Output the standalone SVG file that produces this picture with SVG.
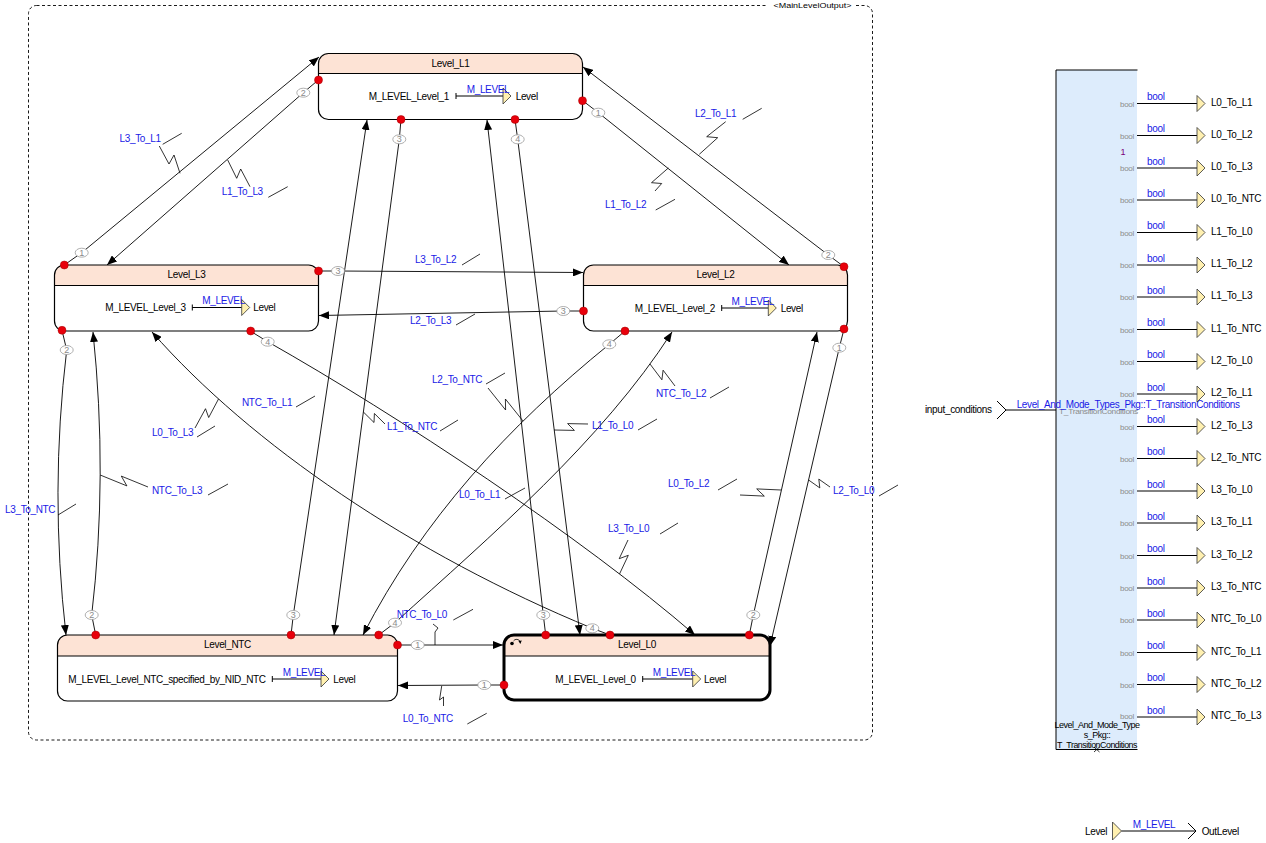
<svg xmlns="http://www.w3.org/2000/svg" width="1266" height="843" viewBox="0 0 1266 843">
<style>
.t{font-family:"Liberation Sans",Arial,sans-serif;font-size:10px;letter-spacing:-0.35px;fill:#000}
.b{fill:#1a1ae6}
.g{font-family:"Liberation Sans",Arial,sans-serif;font-size:8px;letter-spacing:-0.3px;fill:#8c8c8c}
.hdr{fill:#fde3d5}
.body{fill:#fff}
.box{fill:none;stroke:#000;stroke-width:1.2}
.box0{fill:none;stroke:#000;stroke-width:3}
.sep{stroke:#000;stroke-width:1.2}
.dot{fill:#e8000b;stroke:#a00000;stroke-width:0.5}
.pn ellipse{fill:#fff;stroke:#9a9a9a;stroke-width:0.8}
.pn text{font-family:"Liberation Sans",Arial,sans-serif;font-size:9px;fill:#8a8a8a;text-anchor:middle}
.tr{fill:none;stroke:#000;stroke-width:0.9;marker-end:url(#ah)}
.zz{fill:none;stroke:#000;stroke-width:0.8}
.port{fill:#fff0b0;stroke:#333;stroke-width:0.8}
.ln{stroke:#000;stroke-width:1;fill:none}
</style>
<defs>
<marker id="ah" viewBox="0 0 10 8" refX="10" refY="4" markerWidth="10" markerHeight="8" markerUnits="userSpaceOnUse" orient="auto">
<path d="M0,0 L10,4 L0,8 Z" fill="#000"/>
</marker>
</defs>
<rect width="1266" height="843" fill="#fff"/>

<!-- container frame -->
<g id="frame">
<rect x="28.5" y="5.5" width="844" height="734.5" rx="8" fill="none" stroke="#000" stroke-width="0.9" stroke-dasharray="3 2.5"/>
<rect x="768" y="0" width="88" height="11" fill="#fff"/>
<text x="812.5" y="8.3" text-anchor="middle" font-family="Liberation Sans, Arial, sans-serif" font-size="8" textLength="78" lengthAdjust="spacingAndGlyphs">&lt;MainLevelOutput&gt;</text>
</g>

<!-- transitions -->
<g id="connectors">
<path class="tr" d="M582.7,100.7 L598.3,112.7 L789,265"/>
<path class="tr" d="M844,266.7 L828.3,255 L583,67"/>
<path class="tr" d="M318.3,80 L303.3,92.7 L107,265"/>
<path class="tr" d="M64.3,265 L81.7,252.7 L319,57"/>
<path class="tr" d="M318.7,271 L338,271 L583,272.5"/>
<path class="tr" d="M583.3,311 L563.3,311 L319,315.5"/>
<path class="tr" d="M401,119.3 L399.3,139.3 L334,635"/>
<path class="tr" d="M291,635 L293.3,615 L367,120"/>
<path class="tr" d="M515,119.3 L517.7,139.3 L580,635"/>
<path class="tr" d="M545.7,635 L543.3,615 L487,120"/>
<path class="tr" d="M62,330.3 L66.7,350 Q49.6,492 66,635"/>
<path class="tr" d="M95.7,635 L91.7,615 Q108,476 93,332"/>
<path class="tr" d="M250.7,331.3 L267.7,341.7 C398.2,415.7 581.5,536.9 695,635"/>
<path class="tr" d="M610,635 L592.3,628.3 C412,554 251,444.6 152,332"/>
<path class="tr" d="M625,331 L609.3,344.3 C508.3,426.2 422.5,519.4 363,635"/>
<path class="tr" d="M378.7,635 L395,622.7 C491.3,535.4 601.7,441.3 672,332"/>
<path class="tr" d="M844,329 L839.3,347.7 L770,646"/>
<path class="tr" d="M749.3,635 L753.3,615 L817,332"/>
<path class="tr" d="M397.7,645 L417.7,645 L503,645"/>
<path class="tr" d="M504,685 L484.3,685 L398,685.5"/>

<!-- label leaders -->
<g class="zz">
<path d="M699.3,154.3 L717.7,137.7 L706.7,136.7 L725.7,121.7"/>
<path d="M668.3,168 L651.5,182.7 L661.7,183.5 L655,191"/>
<path d="M180,173.3 L174,155 L169,164 L159.3,146"/>
<path d="M227.7,160 L236.7,178.3 L240.7,169 L250,186.7"/>
<path d="M435,645 L435,632 L438,628 L433,624"/>
<path d="M441.7,686 L439.5,700 L443.5,697 L443.5,706"/>
<path d="M218.5,399 L208.7,417.5 L205.5,408.7 L195,428"/>
<path d="M523,421 L505.4,399 L505.6,410 L488,388"/>
<path d="M619.5,574 L628.3,555.3 L619.2,558.7 L628,540"/>
<path d="M363.4,412 L374,422.5 L374.4,413.5 L385,424"/>
<path d="M100.2,475 L126.9,485.9 L121.3,476.1 L148,487"/>
<path d="M781,490 L756.7,488.9 L764.3,496.1 L740,495"/>
<path d="M808.6,480 L819.8,487.9 L818.8,479.1 L830,487"/>
<path d="M554,430 L574.4,430.4 L567.6,423.6 L588,424"/>
<path d="M650,364 L661.9,379.8 L663.1,370.2 L675,386"/>
</g>

<!-- label separators -->
<g class="zz">
<path d="M742.7,119.3 L761.7,108.3"/>
<path d="M655.7,210 L675,199.3"/>
<path d="M162.7,144.3 L181.7,133.3"/>
<path d="M268.3,197.3 L287.7,186.7"/>
<path d="M462,265 L480,254"/>
<path d="M456,325 L475,314"/>
<path d="M296,407 L315,396"/>
<path d="M440,431 L458,420"/>
<path d="M197,437 L215,426"/>
<path d="M486,384 L505,373"/>
<path d="M710,398 L729,387"/>
<path d="M638,430 L657,419"/>
<path d="M505,499 L525,488"/>
<path d="M208,495 L228,484"/>
<path d="M58,515 L76,504"/>
<path d="M718,490 L737,479"/>
<path d="M879,496 L898,485"/>
<path d="M660,534 L678,523"/>
<path d="M453.3,620 L473,609.3"/>
<path d="M467.3,724 L486.7,713.3"/>
</g>

<!-- transition names -->
<g class="t b">
<text x="695" y="116.5">L2_To_L1</text>
<text x="605" y="208">L1_To_L2</text>
<text x="119.5" y="141.7">L3_To_L1</text>
<text x="221.7" y="195">L1_To_L3</text>
<text x="415" y="262.5">L3_To_L2</text>
<text x="410" y="323.5">L2_To_L3</text>
<text x="242" y="405.5">NTC_To_L1</text>
<text x="387" y="429.5">L1_To_NTC</text>
<text x="152" y="435.5">L0_To_L3</text>
<text x="432" y="382.5">L2_To_NTC</text>
<text x="656" y="396.5">NTC_To_L2</text>
<text x="592" y="428.5">L1_To_L0</text>
<text x="459" y="497.5">L0_To_L1</text>
<text x="152" y="493.5">NTC_To_L3</text>
<text x="5" y="512.5">L3_To_NTC</text>
<text x="668" y="486.5">L0_To_L2</text>
<text x="833" y="493.5">L2_To_L0</text>
<text x="608" y="531.5">L3_To_L0</text>
<text x="396.7" y="617.8">NTC_To_L0</text>
<text x="402.7" y="722">L0_To_NTC</text>
</g>

<!-- priority numbers -->
<g class="pn">
<ellipse cx="598.3" cy="112.7" rx="6.5" ry="4.5"/><text x="598.3" y="115.8">1</text>
<ellipse cx="828.3" cy="255" rx="6.5" ry="4.5"/><text x="828.3" y="258.1">2</text>
<ellipse cx="303.3" cy="92.7" rx="6.5" ry="4.5"/><text x="303.3" y="95.8">2</text>
<ellipse cx="81.7" cy="252.7" rx="6.5" ry="4.5"/><text x="81.7" y="255.8">1</text>
<ellipse cx="338" cy="271" rx="6.5" ry="4.5"/><text x="338" y="274.1">3</text>
<ellipse cx="563.3" cy="311" rx="6.5" ry="4.5"/><text x="563.3" y="314.1">3</text>
<ellipse cx="399.3" cy="139.3" rx="6.5" ry="4.5"/><text x="399.3" y="142.4">3</text>
<ellipse cx="293.3" cy="615" rx="6.5" ry="4.5"/><text x="293.3" y="618.1">3</text>
<ellipse cx="517.7" cy="139.3" rx="6.5" ry="4.5"/><text x="517.7" y="142.4">4</text>
<ellipse cx="543.3" cy="615" rx="6.5" ry="4.5"/><text x="543.3" y="618.1">3</text>
<ellipse cx="66.7" cy="350" rx="6.5" ry="4.5"/><text x="66.7" y="353.1">2</text>
<ellipse cx="91.7" cy="615" rx="6.5" ry="4.5"/><text x="91.7" y="618.1">2</text>
<ellipse cx="267.7" cy="341.7" rx="6.5" ry="4.5"/><text x="267.7" y="344.8">4</text>
<ellipse cx="592.3" cy="628.3" rx="6.5" ry="4.5"/><text x="592.3" y="631.4">4</text>
<ellipse cx="609.3" cy="344.3" rx="6.5" ry="4.5"/><text x="609.3" y="347.4">4</text>
<ellipse cx="395" cy="622.7" rx="6.5" ry="4.5"/><text x="395" y="625.8">4</text>
<ellipse cx="839.3" cy="347.7" rx="6.5" ry="4.5"/><text x="839.3" y="350.8">1</text>
<ellipse cx="753.3" cy="615" rx="6.5" ry="4.5"/><text x="753.3" y="618.1">2</text>
<ellipse cx="417.7" cy="645" rx="6.5" ry="4.5"/><text x="417.7" y="648.1">1</text>
<ellipse cx="484.3" cy="685" rx="6.5" ry="4.5"/><text x="484.3" y="688.1">1</text>
</g>
</g>

<!-- state Level_L1 -->
<g id="state-L1">
<rect class="body" x="318.5" y="53.5" width="264" height="66" rx="10"/>
<path class="hdr" d="M318.5,73.5 V63.5 A10,10 0 0 1 328.5,53.5 H572.5 A10,10 0 0 1 582.5,63.5 V73.5 Z"/>
<line class="sep" x1="318.5" y1="73.5" x2="582.5" y2="73.5"/>
<rect class="box" x="318.5" y="53.5" width="264" height="66" rx="10"/>
<text class="t" x="450.5" y="66.8" text-anchor="middle">Level_L1</text>
<text class="t" x="449" y="99.5" text-anchor="end">M_LEVEL_Level_1</text>
<path class="ln" d="M456,93 V99 M456,96 H503"/>
<path class="port" d="M503,88 L511,96 L503,104 Z"/>
<text class="t b" x="466.7" y="92.8">M_LEVEL</text>
<text class="t" x="515.7" y="99.5">Level</text>
<circle class="dot" cx="318.5" cy="80" r="4"/>
<circle class="dot" cx="401" cy="119.5" r="4"/>
<circle class="dot" cx="515" cy="119.5" r="4"/>
<circle class="dot" cx="582.5" cy="100.7" r="4"/>
</g>

<!-- state Level_L3 -->
<g id="state-L3">
<rect class="body" x="54.5" y="265" width="264" height="66" rx="10"/>
<path class="hdr" d="M54.5,285.5 V275 A10,10 0 0 1 64.5,265 H308.5 A10,10 0 0 1 318.5,275 V285.5 Z"/>
<line class="sep" x1="54.5" y1="285.5" x2="318.5" y2="285.5"/>
<rect class="box" x="54.5" y="265" width="264" height="66" rx="10"/>
<text class="t" x="186.5" y="277.8" text-anchor="middle">Level_L3</text>
<text class="t" x="185.7" y="311" text-anchor="end">M_LEVEL_Level_3</text>
<path class="ln" d="M192.3,304.5 V310.5 M192.3,307.5 H241.7"/>
<path class="port" d="M241.7,299.5 L249.7,307.5 L241.7,315.5 Z"/>
<text class="t b" x="202.3" y="304">M_LEVEL</text>
<text class="t" x="253.3" y="311">Level</text>
<circle class="dot" cx="64.3" cy="265" r="4"/>
<circle class="dot" cx="318.5" cy="271" r="4"/>
<circle class="dot" cx="62" cy="330.3" r="4"/>
<circle class="dot" cx="250.7" cy="331" r="4"/>
</g>

<!-- state Level_L2 -->
<g id="state-L2">
<rect class="body" x="583.5" y="265" width="264" height="66" rx="10"/>
<path class="hdr" d="M583.5,285.5 V275 A10,10 0 0 1 593.5,265 H837.5 A10,10 0 0 1 847.5,275 V285.5 Z"/>
<line class="sep" x1="583.5" y1="285.5" x2="847.5" y2="285.5"/>
<rect class="box" x="583.5" y="265" width="264" height="66" rx="10"/>
<text class="t" x="715.5" y="277.8" text-anchor="middle">Level_L2</text>
<text class="t" x="715" y="311.5" text-anchor="end">M_LEVEL_Level_2</text>
<path class="ln" d="M721.7,305 V311 M721.7,308 H768.3"/>
<path class="port" d="M768.3,300 L776.3,308 L768.3,316 Z"/>
<text class="t b" x="731.5" y="304.5">M_LEVEL</text>
<text class="t" x="780.7" y="311.5">Level</text>
<circle class="dot" cx="844" cy="266.7" r="4"/>
<circle class="dot" cx="583.5" cy="311" r="4"/>
<circle class="dot" cx="625" cy="331" r="4"/>
<circle class="dot" cx="844" cy="329" r="4"/>
</g>

<!-- state Level_NTC -->
<g id="state-NTC">
<rect class="body" x="57.5" y="635" width="340" height="66" rx="10"/>
<path class="hdr" d="M57.5,656 V645 A10,10 0 0 1 67.5,635 H387.5 A10,10 0 0 1 397.5,645 V656 Z"/>
<line class="sep" x1="57.5" y1="656" x2="397.5" y2="656"/>
<rect class="box" x="57.5" y="635" width="340" height="66" rx="10"/>
<text class="t" x="227.5" y="647.5" text-anchor="middle">Level_NTC</text>
<text class="t" x="265.7" y="682.5" text-anchor="end">M_LEVEL_Level_NTC_specified_by_NID_NTC</text>
<path class="ln" d="M272.3,676 V682 M272.3,679 H321"/>
<path class="port" d="M321,671 L329,679 L321,687 Z"/>
<text class="t b" x="282.7" y="675.5">M_LEVEL</text>
<text class="t" x="333.3" y="682.5">Level</text>
<circle class="dot" cx="95.7" cy="635" r="4"/>
<circle class="dot" cx="291" cy="635" r="4"/>
<circle class="dot" cx="378.7" cy="635" r="4"/>
<circle class="dot" cx="397.5" cy="645" r="4"/>
</g>

<!-- state Level_L0 (initial) -->
<g id="state-L0">
<rect class="body" x="504" y="635" width="266" height="65" rx="10"/>
<path class="hdr" d="M504,656 V645 A10,10 0 0 1 514,635 H760 A10,10 0 0 1 770,645 V656 Z"/>
<line class="sep" x1="504" y1="656" x2="770" y2="656"/>
<rect class="box0" x="504" y="635" width="266" height="65" rx="10"/>
<text class="t" x="637" y="647.5" text-anchor="middle">Level_L0</text>
<circle cx="512" cy="643.5" r="1.8" fill="#000"/>
<path d="M513.5,641 A3.5,3 0 0 1 520,641.5" fill="none" stroke="#000" stroke-width="0.8"/>
<path d="M518.5,641 L520.3,644 L521.8,640.6 Z" fill="#000"/>
<text class="t" x="635.7" y="682.5" text-anchor="end">M_LEVEL_Level_0</text>
<path class="ln" d="M642.7,676 V682 M642.7,679 H692.7"/>
<path class="port" d="M692.7,671 L700.7,679 L692.7,687 Z"/>
<text class="t b" x="652.7" y="675.5">M_LEVEL</text>
<text class="t" x="704" y="682.5">Level</text>
<circle class="dot" cx="545.7" cy="635" r="4"/>
<circle class="dot" cx="610" cy="635" r="4"/>
<circle class="dot" cx="749.3" cy="635" r="4"/>
<circle class="dot" cx="504" cy="685" r="4"/>
</g>

<!-- unpack block -->
<g id="unpack-block">
<rect x="1056" y="70" width="81" height="680" fill="#ddecfc"/>
<path class="ln" d="M1137.5,70 H1056 V749.5 H1137.5"/>
<path d="M1094,747 L1099.5,752 M1099.5,747 L1094,752" stroke="#000" stroke-width="0.8"/>
<text class="g" x="1059" y="414" textLength="79" lengthAdjust="spacingAndGlyphs" font-size="9">T_TransitionConditions</text>
<text x="1120.5" y="155" font-family="Liberation Sans, Arial, sans-serif" font-size="9" fill="#7a007a">1</text>
<g font-family="Liberation Sans, Arial, sans-serif" font-size="9" text-anchor="middle" letter-spacing="-0.5">
<text x="1097" y="728">Level_And_Mode_Type</text>
<text x="1097" y="738">s_Pkg::</text>
<text x="1097" y="747.5" textLength="80" lengthAdjust="spacingAndGlyphs">T_TransitionConditions</text>
</g>
</g>

<!-- input -->
<g id="input-conditions">
<text class="t" x="925" y="412.8">input_conditions</text>
<path class="ln" d="M997,401 L1006,410 L997,419 M1006,410 H1056"/>
<text class="t b" x="1016.7" y="407.5" textLength="223" lengthAdjust="spacingAndGlyphs">Level_And_Mode_Types_Pkg::T_TransitionConditions</text>
</g>

<!-- outputs -->
<g id="outputs">
<g class="g" text-anchor="end">
<text x="1134" y="106.5">bool</text><text x="1134" y="138.5">bool</text><text x="1134" y="171">bool</text><text x="1134" y="203">bool</text>
<text x="1134" y="235.5">bool</text><text x="1134" y="268">bool</text><text x="1134" y="300">bool</text><text x="1134" y="332.5">bool</text>
<text x="1134" y="364.5">bool</text><text x="1134" y="397">bool</text><text x="1134" y="429.5">bool</text><text x="1134" y="461.5">bool</text>
<text x="1134" y="494">bool</text><text x="1134" y="526">bool</text><text x="1134" y="558.5">bool</text><text x="1134" y="591">bool</text>
<text x="1134" y="623">bool</text><text x="1134" y="655.5">bool</text><text x="1134" y="687.5">bool</text><text x="1134" y="719">bool</text>
</g>
<path class="ln" d="M1137,103.5 H1197 M1137,135.5 H1197 M1137,168 H1197 M1137,200 H1197 M1137,232.5 H1197 M1137,265 H1197 M1137,297 H1197 M1137,329.5 H1197 M1137,361.5 H1197 M1137,394 H1197 M1137,426.5 H1197 M1137,458.5 H1197 M1137,491 H1197 M1137,523 H1197 M1137,555.5 H1197 M1137,588 H1197 M1137,620 H1197 M1137,652.5 H1197 M1137,684.5 H1197 M1137,717 H1197"/>
<g class="t b">
<text x="1147" y="100">bool</text><text x="1147" y="132">bool</text><text x="1147" y="164.5">bool</text><text x="1147" y="196.5">bool</text>
<text x="1147" y="229">bool</text><text x="1147" y="261.5">bool</text><text x="1147" y="293.5">bool</text><text x="1147" y="326">bool</text>
<text x="1147" y="358">bool</text><text x="1147" y="390.5">bool</text><text x="1147" y="423">bool</text><text x="1147" y="455">bool</text>
<text x="1147" y="487.5">bool</text><text x="1147" y="519.5">bool</text><text x="1147" y="552">bool</text><text x="1147" y="584.5">bool</text>
<text x="1147" y="616.5">bool</text><text x="1147" y="649">bool</text><text x="1147" y="681">bool</text><text x="1147" y="713.5">bool</text>
</g>
<g class="port">
<path d="M1197,95.5 l8,8 l-8,8 Z"/><path d="M1197,127.5 l8,8 l-8,8 Z"/><path d="M1197,160 l8,8 l-8,8 Z"/><path d="M1197,192 l8,8 l-8,8 Z"/>
<path d="M1197,224.5 l8,8 l-8,8 Z"/><path d="M1197,257 l8,8 l-8,8 Z"/><path d="M1197,289 l8,8 l-8,8 Z"/><path d="M1197,321.5 l8,8 l-8,8 Z"/>
<path d="M1197,353.5 l8,8 l-8,8 Z"/><path d="M1197,386 l8,8 l-8,8 Z"/><path d="M1197,418.5 l8,8 l-8,8 Z"/><path d="M1197,450.5 l8,8 l-8,8 Z"/>
<path d="M1197,483 l8,8 l-8,8 Z"/><path d="M1197,515 l8,8 l-8,8 Z"/><path d="M1197,547.5 l8,8 l-8,8 Z"/><path d="M1197,580 l8,8 l-8,8 Z"/>
<path d="M1197,612 l8,8 l-8,8 Z"/><path d="M1197,644.5 l8,8 l-8,8 Z"/><path d="M1197,676.5 l8,8 l-8,8 Z"/><path d="M1197,709 l8,8 l-8,8 Z"/>
</g>
<g class="t">
<text x="1211" y="105.5">L0_To_L1</text><text x="1211" y="137.5">L0_To_L2</text><text x="1211" y="170">L0_To_L3</text><text x="1211" y="202">L0_To_NTC</text>
<text x="1211" y="234.5">L1_To_L0</text><text x="1211" y="267">L1_To_L2</text><text x="1211" y="299">L1_To_L3</text><text x="1211" y="331.5">L1_To_NTC</text>
<text x="1211" y="363.5">L2_To_L0</text><text x="1211" y="396">L2_To_L1</text><text x="1211" y="428.5">L2_To_L3</text><text x="1211" y="460.5">L2_To_NTC</text>
<text x="1211" y="493">L3_To_L0</text><text x="1211" y="525">L3_To_L1</text><text x="1211" y="557.5">L3_To_L2</text><text x="1211" y="590">L3_To_NTC</text>
<text x="1211" y="622">NTC_To_L0</text><text x="1211" y="654.5">NTC_To_L1</text><text x="1211" y="686.5">NTC_To_L2</text><text x="1211" y="719">NTC_To_L3</text>
</g>
</g>

<!-- result output -->
<g id="out-level">
<text class="t" x="1085" y="834.5">Level</text>
<path class="port" d="M1112.5,822 L1121.5,831 L1112.5,840 Z"/>
<path class="ln" d="M1121.5,831 H1196 M1188,823 L1196,831 L1188,839"/>
<text class="t b" x="1132.7" y="828.3">M_LEVEL</text>
<text class="t" x="1201.7" y="834.5">OutLevel</text>
</g>
</svg>
